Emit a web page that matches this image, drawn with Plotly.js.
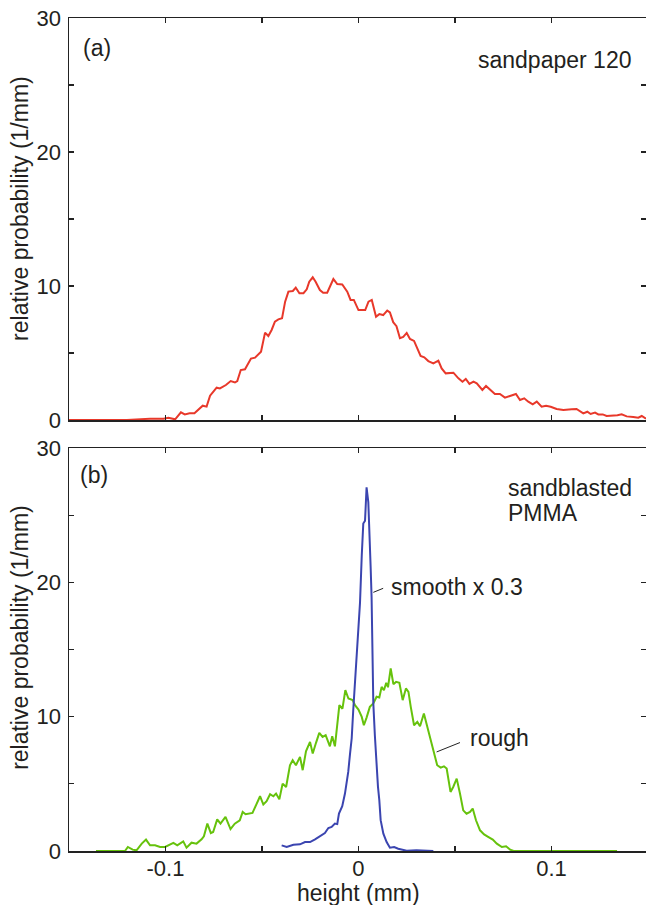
<!DOCTYPE html>
<html>
<head>
<meta charset="utf-8">
<script src="https://cdn.plot.ly/plotly-3.0.1.min.js"></script>
<style>html,body{margin:0;padding:0;background:#fff;}#chart{width:646px;height:905px;}</style>
</head>
<body>
<div id="chart"></div>
<script>
// ---- Data ----
// (a) sandpaper 120
const sandpaperX = [
  -0.150, -0.120, -0.108, -0.101, -0.0985, -0.095, -0.092, -0.090, -0.0875, -0.085,
  -0.0807, -0.0787, -0.0769, -0.0735, -0.0718, -0.0687, -0.0662, -0.064, -0.0628, -0.061,
  -0.0588, -0.0557, -0.0536, -0.0505, -0.0484, -0.0467, -0.045, -0.0433, -0.0415, -0.0396,
  -0.038, -0.0363, -0.034, -0.0325, -0.0306, -0.0285, -0.0268, -0.0255, -0.0237, -0.0222,
  -0.020, -0.0183, -0.0162, -0.0143, -0.013, -0.011, -0.0084, -0.0058, -0.0041, -0.0024,
  0.0, 0.0035, 0.0052, 0.0069, 0.0091, 0.0108, 0.0128, 0.0149, 0.0163, 0.018,
  0.0197, 0.0215, 0.0232, 0.025, 0.0267, 0.0288, 0.0305, 0.0322, 0.0341, 0.0362,
  0.0388, 0.0414, 0.0431, 0.0452, 0.0492, 0.0518, 0.0539, 0.0556, 0.0575, 0.0596,
  0.0613, 0.0642, 0.0661, 0.0682, 0.0707, 0.0733, 0.0759, 0.0785, 0.0816, 0.0837,
  0.0859, 0.088, 0.0903, 0.0924, 0.0949, 0.0972, 0.0996, 0.1027, 0.1062, 0.1105,
  0.113, 0.1165, 0.1186, 0.1203, 0.1226, 0.1243, 0.1266, 0.1286, 0.1321, 0.1342,
  0.1364, 0.139, 0.1424, 0.145, 0.1468, 0.149
];
const sandpaperY = [
  0, 0, 0.1, 0.1, 0.17, 0.05, 0.57, 0.42, 0.5, 0.5,
  1.07, 1.0, 1.82, 2.41, 2.36, 2.61, 2.91, 2.8, 2.91, 3.73,
  3.78, 4.58, 4.65, 5.1, 6.52, 6.27, 6.72, 7.34, 7.51, 7.59,
  8.83, 9.58, 9.63, 9.88, 9.46, 9.46, 9.75, 10.32, 10.65, 10.32,
  9.7, 9.5, 9.5, 10.07, 10.52, 10.15, 10.12, 9.58, 8.96, 8.96,
  8.2, 8.2, 8.83, 8.96, 7.71, 7.9, 7.83, 8.16, 8.03, 7.3,
  7.0, 6.1, 6.2, 6.5, 6.05, 5.9, 5.35, 4.78, 4.68, 4.4,
  4.23, 4.43, 3.85, 3.48, 3.53, 3.11, 2.86, 3.06, 2.69, 2.86,
  2.74, 2.24, 2.54, 2.29, 1.94, 1.94, 1.67, 1.79, 1.94, 1.49,
  1.62, 1.37, 1.17, 1.37, 0.99, 1.07, 0.99, 0.82, 0.75, 0.8,
  0.82, 0.5, 0.62, 0.45, 0.55, 0.42, 0.42, 0.3, 0.3, 0.35,
  0.42, 0.27, 0.22, 0.17, 0.3, 0.1
];

// (b) sandblasted PMMA, rough
const roughX = [
  -0.136, -0.121, -0.1195, -0.117, -0.115, -0.1123, -0.1101, -0.108, -0.1054, -0.1028,
  -0.1002, -0.0982, -0.0959, -0.0939, -0.0908, -0.0891, -0.0865, -0.0839, -0.0813, -0.0801,
  -0.0783, -0.0765, -0.0753, -0.0732, -0.0715, -0.0689, -0.0663, -0.0641, -0.0615, -0.060,
  -0.0585, -0.0549, -0.0528, -0.051, -0.0493, -0.0476, -0.0458, -0.0441, -0.0427, -0.041,
  -0.0393, -0.0375, -0.0355, -0.0341, -0.0324, -0.0303, -0.0289, -0.0272, -0.0251, -0.0237,
  -0.022, -0.0203, -0.0186, -0.017, -0.0148, -0.0136, -0.0122, -0.0099, -0.0083, -0.0068,
  -0.0052, -0.003, -0.0018, 0.0, 0.0017, 0.0028, 0.0042, 0.0059, 0.0077, 0.0094,
  0.0108, 0.012, 0.0132, 0.0144, 0.0153, 0.0167, 0.0181, 0.0195, 0.0212, 0.0229,
  0.0246, 0.0259, 0.0271, 0.0288, 0.0305, 0.0319, 0.0339, 0.0357, 0.0374, 0.0391,
  0.0408, 0.0426, 0.0443, 0.0457, 0.0477, 0.0491, 0.0509, 0.0526, 0.0543, 0.056,
  0.0578, 0.0592, 0.0609, 0.063, 0.0651, 0.0674, 0.0696, 0.0717, 0.0743, 0.0765,
  0.0786, 0.0804, 0.134
];
const roughY = [
  0, 0, 0.3, 0.1, 0.05, 0.55, 0.85, 0.42, 0.42, 0.3,
  0.3, 0.42, 0.6, 0.42, 0.72, 0.25, 0.62, 0.55, 0.87, 1.1,
  2.04, 1.34, 1.42, 2.36, 2.04, 2.54, 1.63, 2.04, 2.29, 2.91,
  2.74, 2.84, 3.58, 4.08, 3.46, 3.71, 4.23, 4.08, 4.28, 3.86,
  5.02, 4.77, 6.39, 6.76, 6.39, 7.01, 6.02, 7.43, 8.13, 7.26,
  8.06, 8.8, 8.5, 8.63, 7.8, 8.55, 7.8, 10.86, 10.6, 11.98,
  11.36, 11.24, 10.86, 10.54, 9.99, 9.37, 9.94, 10.74, 10.99, 11.49,
  11.44, 12.23, 11.98, 12.53, 12.2, 13.6, 12.43, 12.6, 12.53, 11.24,
  12.11, 11.86, 10.74, 9.37, 9.62, 9.29, 10.24, 9.25, 8.38, 7.38,
  6.39, 6.21, 6.31, 6.14, 4.4, 4.77, 5.39, 4.28, 3.03, 2.78,
  2.91, 3.16, 2.29, 1.54, 1.24, 1.04, 0.85, 0.55, 0.3, 0.35,
  0.1, 0, 0
];

// (b) sandblasted PMMA, smooth (scaled x 0.3)
const smoothX = [
  -0.0398, -0.0372, -0.0337, -0.0303, -0.0277, -0.0251, -0.0225, -0.0199, -0.0174, -0.0156,
  -0.0139, -0.0122, -0.011, -0.0101, -0.0084, -0.007, -0.0053, -0.0044, -0.0035, -0.0027,
  -0.0015, -0.0006, 0.0008, 0.0017, 0.0025, 0.0034, 0.0042, 0.0051, 0.0058, 0.0063,
  0.0068, 0.0073, 0.0077, 0.0085, 0.0094, 0.0101, 0.0108, 0.0115, 0.0129, 0.0146,
  0.0163, 0.0185, 0.0206, 0.025, 0.030, 0.0388
];
const smoothY = [
  0.42, 0.3, 0.47, 0.5, 0.67, 0.67, 0.87, 1.12, 1.34, 1.71,
  1.79, 2.04, 2.0, 2.79, 3.34, 4.28, 5.89, 7.2, 8.4, 10.5,
  13.0, 15.0, 18.5, 22.0, 24.4, 24.6, 27.1, 26.0, 23.8, 21.2,
  18.9, 15.0, 11.0, 8.6, 6.0, 4.8, 3.79, 2.3, 1.29, 0.67,
  0.25, 0.3, 0.17, 0.02, 0.05, 0.0
];

// Axis ticks
const xTickVals = [-0.1, -0.05, 0, 0.05, 0.1];
const xTickText = ['-0.1', '', '0', '', '0.1'];
const yTickVals = [0, 5, 10, 15, 20, 25, 30];
const yTickText = ['0', '', '10', '', '20', '', '30'];

// ---- Figure ----
const FONT = 'Liberation Sans, Arial, Helvetica, sans-serif';
const TXT = '#231f20';

const traces = [
  {x: sandpaperX, y: sandpaperY, xaxis: 'x', yaxis: 'y', mode: 'lines',
   line: {color: '#e8382a', width: 2}, hoverinfo: 'skip'},
  {x: roughX, y: roughY, xaxis: 'x2', yaxis: 'y2', mode: 'lines',
   line: {color: '#66c20c', width: 2}, hoverinfo: 'skip'},
  {x: smoothX, y: smoothY, xaxis: 'x2', yaxis: 'y2', mode: 'lines',
   line: {color: '#3b45b0', width: 2}, hoverinfo: 'skip'}
];

function xAxis(anchor, labels) {
  return {
    anchor: anchor, range: [-0.15, 0.149], domain: [0, 1],
    showline: true, linecolor: '#222', linewidth: 1.5, mirror: 'ticks',
    ticks: 'inside', ticklen: 5, tickwidth: 1.2, tickcolor: '#222',
    tickmode: 'array', tickvals: xTickVals, ticktext: xTickText,
    showticklabels: labels, showgrid: false, zeroline: false,
    ticklabelstandoff: -3,
    tickfont: {family: FONT, size: 22, color: TXT}
  };
}
function yAxis(anchor, domain) {
  return {
    anchor: anchor, range: [0, 30], domain: domain,
    showline: true, linecolor: '#222', linewidth: 1.5, mirror: 'ticks',
    ticks: 'inside', ticklen: 5, tickwidth: 1.2, tickcolor: '#222',
    tickmode: 'array', tickvals: yTickVals, ticktext: yTickText,
    showgrid: false, zeroline: false, ticklabelstandoff: 2,
    tickfont: {family: FONT, size: 22, color: TXT}
  };
}

const f = {family: FONT, size: 23, color: TXT};
const layout = {
  width: 646, height: 905,
  margin: {l: 69, r: 0, t: 18, b: 54},
  paper_bgcolor: '#fff', plot_bgcolor: '#fff',
  showlegend: false,
  xaxis: xAxis('y', false),
  yaxis: yAxis('x', [0.5174, 1]),
  xaxis2: xAxis('y2', true),
  yaxis2: yAxis('x2', [0, 0.4834]),
  annotations: [
    {xref: 'paper', yref: 'paper', x: -0.085, y: 0.772, text: 'relative probability (1/mm)',
     textangle: -90, showarrow: false, font: f, xanchor: 'center', yanchor: 'middle'},
    {xref: 'paper', yref: 'paper', x: -0.085, y: 0.257, text: 'relative probability (1/mm)',
     textangle: -90, showarrow: false, font: f, xanchor: 'center', yanchor: 'middle'},
    {xref: 'x2', yref: 'paper', x: 0.0, y: -0.0505, text: 'height (mm)', showarrow: false,
     font: f, xanchor: 'center', yanchor: 'middle'},
    {xref: 'x', yref: 'y', x: -0.1355, y: 27.76, text: '(a)', showarrow: false,
     font: f, xanchor: 'center', yanchor: 'middle'},
    {xref: 'x', yref: 'y', x: 0.1422, y: 26.87, text: 'sandpaper 120', showarrow: false,
     font: f, xanchor: 'right', yanchor: 'middle'},
    {xref: 'x2', yref: 'y2', x: -0.137, y: 28.0, text: '(b)', showarrow: false,
     font: f, xanchor: 'center', yanchor: 'middle'},
    {xref: 'x2', yref: 'y2', x: 0.0764, y: 27.05, text: 'sandblasted', showarrow: false,
     font: f, xanchor: 'left', yanchor: 'middle'},
    {xref: 'x2', yref: 'y2', x: 0.0764, y: 25.18, text: 'PMMA', showarrow: false,
     font: f, xanchor: 'left', yanchor: 'middle'},
    {xref: 'x2', yref: 'y2', x: 0.0158, y: 19.66, text: 'smooth x 0.3', showarrow: false,
     font: f, xanchor: 'left', yanchor: 'middle'},
    {xref: 'x2', yref: 'y2', x: 0.0566, y: 8.4, text: 'rough', showarrow: false,
     font: f, xanchor: 'left', yanchor: 'middle'}
  ],
  shapes: [
    {type: 'line', xref: 'x2', yref: 'y2', x0: 0.0077, y0: 19.27, x1: 0.0128, y1: 19.57,
     line: {color: '#222', width: 1}},
    {type: 'line', xref: 'x2', yref: 'y2', x0: 0.0405, y0: 7.38, x1: 0.0526, y1: 8.08,
     line: {color: '#222', width: 1}}
  ]
};

Plotly.newPlot('chart', traces, layout, {staticPlot: true, displayModeBar: false});
</script>
</body>
</html>
